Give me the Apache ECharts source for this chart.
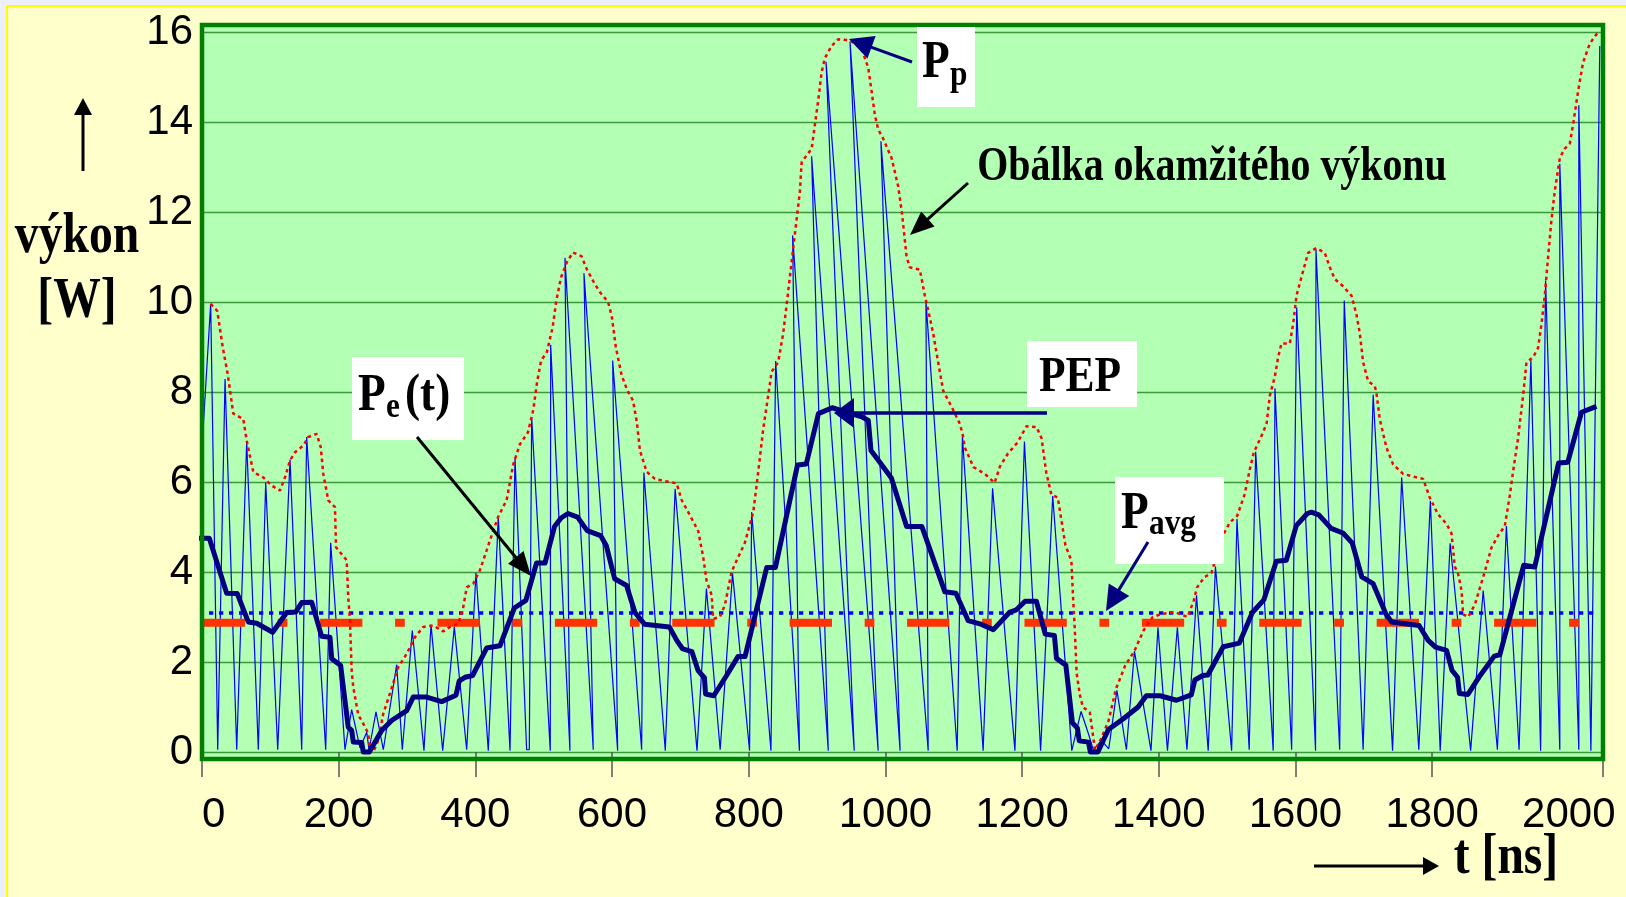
<!DOCTYPE html>
<html><head><meta charset="utf-8">
<script src="https://cdn.jsdelivr.net/npm/echarts@6/dist/echarts.min.js"></script>
<style>html,body{margin:0;padding:0;background:#EEEEFF;}#c{width:1626px;height:897px;}</style>
</head><body><div id="c"></div>
<script>
// ---- data (t in ns, power in W) ----
const xTickLabels = [0,200,400,600,800,1000,1200,1400,1600,1800,2000];
const xTickMarks = [0,200,400,600,800,1000,1200,1400,1600,1800,2050];
const yTickLabels = [0,2,4,6,8,10,12,14,16];

const instPower = [[0,6.76],[12.7,9.96],[23,0.05],[33.7,8.29],[50.8,0.05],[65.4,6.9],[82.4,0.05],[93.2,5.99],[110.8,0.05],[128.8,6.5],[145.9,0.05],[153.2,7.0],[181,0.05],[188.3,4.65],[209.2,0.05],[219,0.94],[231.2,0.09],[241,0.44],[244.4,0.05],[254.6,0.89],[265.3,0.05],[284.9,1.94],[293.1,0.05],[307.7,2.7],[324.8,0.03],[335.1,2.83],[352.2,0.03],[369.2,2.78],[387.3,0.05],[400.9,3.98],[418.9,0.03],[433.5,5.22],[450.7,0.03],[458,6.55],[475,0.05],[478.9,0.05],[482.4,7.43],[509.6,0.03],[510.2,9.05],[538.4,0.03],[531.1,10.98],[572.5,0.05],[558.9,10.64],[608.2,0.03],[600.9,8.7],[643.3,0.05],[646.6,6.21],[677.9,0.03],[692.3,5.85],[724.3,0.03],[738.1,3.63],[758.2,0.05],[776.3,3.97],[801.2,0.03],[804.2,5.33],[832.5,0.03],[839.4,8.69],[874.2,0.03],[864.2,11.48],[916.4,0.03],[892,13.24],[954.4,0.03],[913.1,15.34],[989.4,0.03],[948.2,15.79],[1021.5,0.03],[993.4,13.57],[1062.6,0.03],[1059.3,10.03],[1105,0.03],[1112.7,7.02],[1143,0.03],[1156.8,5.86],[1189.5,0.03],[1203.4,6.9],[1227.1,0.03],[1244.8,5.69],[1272.7,0.03],[1286.3,0.9],[1297.2,0.4],[1304.3,0.04],[1316,0.26],[1326.8,0.07],[1338.7,1.37],[1352.6,0.05],[1364.4,2.24],[1388.6,0.03],[1398.8,2.77],[1412.7,0.03],[1427.2,2.77],[1441.2,0.05],[1455.2,3.48],[1472.3,0.03],[1482.9,4.12],[1506.6,0.03],[1514.4,5.18],[1532.3,0.05],[1541.8,6.67],[1567.4,0.03],[1570,8.08],[1594.4,0.05],[1601.8,9.88],[1629.4,0.03],[1630,11.17],[1664.7,0.05],[1671.4,10.03],[1699,0.05],[1713.7,7.94],[1742.1,0.03],[1755.4,6.1],[1780.5,0.05],[1797.4,5.58],[1811.8,0.03],[1826.3,4.64],[1856.3,0.03],[1874.7,3.59],[1895.5,0.05],[1908.6,5.02],[1927.2,0.05],[1944.5,8.71],[1958.7,0.03],[1966,10.48],[1986.8,0.05],[1986.8,13.07],[2014.6,0.05],[2014.6,14.37],[2032.3,0.03],[2045.3,15.69]];

const envelope = [[12.7,9.96],[22.4,9.8],[30.3,9.0],[37.6,8.4],[45.8,7.52],[60.4,7.4],[65.4,6.92],[75.1,6.22],[89.7,6.1],[102,5.92],[114.1,5.81],[121.4,6.1],[128.8,6.48],[136.1,6.66],[148.2,6.81],[155.5,7.0],[167.8,7.07],[173.7,6.78],[177.5,6.18],[184.8,5.59],[194.6,5.44],[196.1,4.55],[211.7,4.26],[214,3.44],[216.5,2.92],[219,1.81],[221.4,1.44],[228.7,0.82],[233.6,0.7],[243.3,0.41],[245.8,0.04],[250.6,0],[257.9,0.26],[265.2,0.85],[275,1.3],[287.2,1.89],[299.5,2.18],[311.6,2.55],[323.8,2.78],[338.4,2.81],[353,2.68],[362.8,2.78],[375,2.85],[382.3,3.22],[387.3,3.66],[396.9,3.74],[406.7,4.04],[416.5,4.48],[426.2,4.92],[433.5,5.23],[445.8,5.6],[455.4,6.39],[465.2,6.84],[476.9,7.1],[484.7,7.6],[490.5,8.24],[496.3,8.7],[504.7,8.89],[513.1,9.44],[518.6,10.04],[525.4,10.55],[534.4,10.9],[542.8,11.1],[555.1,11.02],[563.3,10.72],[574.7,10.4],[583.2,10.2],[594.3,10.0],[599.8,9.66],[605.5,9.0],[613.9,8.38],[622.2,8.04],[630.7,7.81],[636.3,7.33],[640.8,6.7],[650.6,6.23],[662.7,6.07],[677.4,6.02],[694.5,5.97],[701.8,5.6],[711.5,5.33],[726.1,4.91],[733.4,4.33],[738.4,3.8],[745.7,3.49],[748,2.96],[757.9,3.0],[765.2,3.27],[775,4.01],[784.6,4.33],[794.4,4.65],[806.6,5.33],[811.5,5.92],[816.4,6.55],[821.2,7.18],[828.5,7.92],[833.5,8.45],[843.1,8.66],[850.4,9.3],[855.4,9.93],[860.2,10.56],[865.1,11.2],[870,11.83],[874.9,12.46],[877.4,13.1],[884.7,13.26],[892,13.4],[896.8,13.94],[901.6,14.47],[906.6,15.1],[911.4,15.42],[921.2,15.69],[930.9,15.84],[944.7,15.82],[950.5,15.79],[965.1,15.63],[974.8,15.21],[979.8,14.68],[984.6,14.15],[989.4,13.84],[996.7,13.63],[1009,13.2],[1018.7,12.57],[1024.5,11.94],[1031,11.0],[1035.8,10.77],[1050.4,10.72],[1057.7,10.14],[1062.6,9.82],[1069.9,9.3],[1077.2,8.66],[1084.5,8.03],[1099.2,7.6],[1109,7.29],[1113.3,7.04],[1116.3,6.76],[1129,6.33],[1145.5,6.18],[1159.7,5.98],[1167.5,6.34],[1179.2,6.63],[1193.4,6.88],[1206.5,7.24],[1221.2,7.22],[1228.5,6.97],[1235.5,6.2],[1242.8,5.72],[1252.3,5.65],[1263.3,4.6],[1272.1,4.25],[1274.7,3.4],[1277.2,2.7],[1279.8,1.75],[1284.5,1.27],[1288.9,1.0],[1299.1,0.88],[1304.1,0.33],[1306.5,0.04],[1315.8,0.3],[1326.6,0.7],[1337.3,1.4],[1350.8,1.92],[1364.2,2.24],[1377.7,2.7],[1391.2,3.0],[1404.5,3.07],[1423.4,3.11],[1442.2,3.0],[1451.3,3.37],[1455.7,3.65],[1466.4,3.88],[1477,3.98],[1482.5,4.26],[1493.3,4.8],[1504,5.1],[1514.8,5.25],[1525.5,5.72],[1533.5,6.3],[1538.9,6.65],[1549.6,7.0],[1557.7,7.29],[1562.5,7.92],[1569.8,8.34],[1574.6,8.77],[1579.6,9.08],[1591.7,9.08],[1596.6,9.51],[1601.5,10.14],[1608.9,10.56],[1618.5,11.09],[1630.8,11.2],[1642.9,11.09],[1650.3,10.77],[1657.6,10.51],[1669.7,10.35],[1682,10.14],[1689.3,9.72],[1694.2,9.3],[1699,8.66],[1706.3,8.24],[1716.1,8.13],[1718.6,7.97],[1723.4,7.39],[1733.2,6.76],[1742.9,6.39],[1757.5,6.18],[1769.8,6.13],[1786.8,6.07],[1796.6,5.65],[1808.7,5.28],[1821,5.07],[1828.3,4.86],[1833.1,4.12],[1838,3.96],[1843,3.59],[1845.3,3.06],[1852.6,3.0],[1862.4,3.27],[1877,4.01],[1886.8,4.54],[1896.5,4.81],[1906.3,5.02],[1913.6,5.7],[1918.4,6.23],[1925.7,6.97],[1933.1,7.92],[1938,8.66],[1947.7,8.77],[1955,8.98],[1960,9.51],[1964.8,10.14],[1969.6,10.99],[1974.6,11.83],[1979.4,12.46],[1986.8,13.2],[1994.1,13.41],[2001.4,13.52],[2006.2,13.94],[2013.5,14.68],[2020.8,15.32],[2030.6,15.74],[2040.4,15.95],[2045.3,16.0]];

const peAvg = [[-10.2,4.75],[10.7,4.75],[36.1,3.53],[51.6,3.52],[67.7,2.89],[80,2.86],[103.4,2.66],[123.9,3.1],[137.1,3.11],[145.9,3.32],[160.5,3.33],[175.1,2.57],[187.3,2.55],[189.8,2.07],[202.9,1.92],[214,0.55],[219,0.48],[221.4,0.22],[233.6,0.21],[236,0],[244.8,0],[262.9,0.48],[277.5,0.7],[299.5,0.92],[309.1,1.22],[328.7,1.22],[350.7,1.12],[371.6,1.26],[376.4,1.58],[384.8,1.66],[396,1.7],[416.5,2.31],[436,2.36],[457,3.2],[473.9,3.37],[489.5,4.2],[501.9,4.2],[515.8,5.01],[525.4,5.2],[535.5,5.3],[549.5,5.22],[563.6,4.92],[583.2,4.81],[591.5,4.59],[603.8,3.85],[621.2,3.7],[633.5,3.1],[647.5,2.84],[683.8,2.78],[695.1,2.47],[703.4,2.29],[716.9,2.23],[725.9,1.81],[735.2,1.65],[736.8,1.29],[748.8,1.25],[767.6,1.7],[784.2,2.12],[794.6,2.12],[826.3,4.1],[839,4.1],[871.4,6.38],[884.2,6.4],[902,7.52],[922.1,7.65],[966.6,7.44],[975,7.37],[978.9,6.7],[991.8,6.44],[1008.7,6.09],[1031,5.01],[1053.4,5.01],[1087,3.56],[1103.1,3.53],[1121,2.92],[1139.7,2.84],[1158,2.72],[1182.1,3.11],[1191.6,3.16],[1204.4,3.35],[1220.9,3.35],[1233.9,2.62],[1247.3,2.59],[1250.3,2.08],[1264,1.93],[1273.6,0.65],[1280.9,0.53],[1283.6,0.25],[1297,0.22],[1299.9,0],[1310.9,0],[1326.3,0.5],[1348.2,0.74],[1369.7,1.0],[1381.8,1.25],[1401.7,1.25],[1426,1.15],[1447.6,1.27],[1452.8,1.6],[1464.4,1.7],[1471.8,1.71],[1494.3,2.34],[1517.9,2.42],[1536.9,3.1],[1553.7,3.38],[1572,4.24],[1586.6,4.26],[1601.2,5.03],[1617.3,5.3],[1623.3,5.33],[1634.2,5.27],[1652.2,4.97],[1670.2,4.86],[1683.2,4.64],[1697.1,3.89],[1713.7,3.74],[1732.3,3.07],[1740.5,2.89],[1780.8,2.81],[1794.2,2.48],[1804.9,2.33],[1821.1,2.26],[1829.2,1.81],[1837.2,1.66],[1839.9,1.3],[1852.3,1.28],[1868.4,1.66],[1890.9,2.13],[1899,2.16],[1934,4.15],[1950.1,4.11],[1985,6.42],[1998.5,6.44],[2018.5,7.55],[2040.4,7.68]];

const pAvgLine = [[-4.4,3.09],[2036.8,3.09]];
const redDashLine = [[1,2.87],[2050,2.87]];

// ---- chart ----
const chart = echarts.init(document.getElementById('c'), null, {width:1626, height:897});
const SERIF = '"Liberation Serif","Times New Roman",serif';
const NAVY = '#000080';

function arrow(x1,y1,x2,y2,color,lw,hl,hw){
  const dx=x2-x1, dy=y2-y1, L=Math.hypot(dx,dy), ux=dx/L, uy=dy/L;
  const bx=x2-ux*hl, by=y2-uy*hl, nx=-uy, ny=ux;
  return [
    {type:'line', z:40, shape:{x1:x1,y1:y1,x2:bx+ux*2,y2:by+uy*2}, style:{stroke:color,lineWidth:lw}},
    {type:'polygon', z:41, shape:{points:[[x2,y2],[bx+nx*hw,by+ny*hw],[bx-nx*hw,by-ny*hw]]}, style:{fill:color}}
  ];
}
function txt(x,y,text,size,align,sx){
  return {type:'text', z:45, x:x, y:y, scaleX:(sx||0.87),
    style:{text:text, x:0, y:0, fill:'#000', font:'bold '+size+'px '+SERIF,
      align:align, textAlign:align, verticalAlign:'middle', textVerticalAlign:'middle'}};
}
function box(x,y,w,h){
  return {type:'rect', z:30, shape:{x:x,y:y,width:w,height:h}, style:{fill:'#ffffff'}};
}

const graphics = [
  {type:'rect', z:-30, shape:{x:0,y:0,width:1626,height:897}, style:{fill:'#EEEEFF'}},
  {type:'rect', z:-29, shape:{x:7,y:6,width:1640,height:910}, style:{fill:'#FFFFCC', stroke:'#FFFF00', lineWidth:2}},
  {type:'rect', z:-20, shape:{x:202,y:25,width:1401,height:734}, style:{fill:'#B3FFB3'}},
  {type:'rect', z:20, shape:{x:202,y:25,width:1401,height:734}, style:{fill:null, stroke:'#008000', lineWidth:4.5}},
  box(917,27,58,80), box(1027,341,110,66), box(352,357,112,83), box(1115,477,109,87),
  txt(922,64,'P',52,'left'), txt(950,76,'p',36,'left'),
  txt(1080,378,'PEP',50,'center'),
  txt(358,397,'P',52,'left'), txt(386,408,'e',36,'left'), txt(405,397,'(t)',52,'left'),
  txt(1121,515,'P',52,'left'), txt(1149,525,'avg',36,'left'),
  txt(1212,168,'Obálka okamžitého výkonu',48,'center',0.83),
  txt(77,238,'výkon',56,'center',0.85),
  txt(77,303,'[W]',56,'center',0.85),
  txt(1506,859,'t [ns]',56,'center',0.85)
].concat(
  arrow(83,171,83,98,'#000',3,17,9),
  arrow(1314,866,1439,866,'#000',3,16,9),
  arrow(968,183,910,235,'#000',3,24,10),
  arrow(912,62,849,39,NAVY,3,24,12),
  arrow(1047,413,834,413,NAVY,3.5,20,15),
  arrow(417,437,531,576,'#000',3,24,10),
  arrow(1148,542,1106,611,NAVY,3,25,12)
);

const option = {
  animation:false,
  backgroundColor:'transparent',
  grid:{left:202, right:23, top:32, bottom:145},
  xAxis:{type:'value', min:0, max:2050, interval:200, offset:10,
    axisLine:{show:false},
    axisTick:{show:true, length:25, customValues:xTickMarks, lineStyle:{color:'#555', width:1.5}},
    splitLine:{show:false},
    axisLabel:{fontSize:42, color:'#000', fontFamily:'"Liberation Sans",Arial,sans-serif', margin:32, lineHeight:42,
      alignMinLabel:'left',
      formatter:function(v){ return xTickLabels.indexOf(v) >= 0 ? String(v) : ''; }}
  },
  yAxis:{type:'value', min:0, max:16, interval:2,
    axisLine:{show:false}, axisTick:{show:false},
    splitLine:{show:true, lineStyle:{color:'#3a9a3a', width:1.4}},
    axisLabel:{fontSize:42, color:'#000', fontFamily:'"Liberation Sans",Arial,sans-serif', margin:9,
      formatter:function(v){ return yTickLabels.indexOf(v) >= 0 ? String(v) : ''; }}
  },
  series:[
    {type:'line', name:'inst', data:instPower, symbol:'none', z:3, clip:false,
      lineStyle:{color:'#0000ff', width:1.2}},
    {type:'line', name:'red', data:redDashLine, symbol:'none', z:4, clip:false,
      lineStyle:{color:'#ff3300', width:8, type:[42.3,32.7,9.7,32.7], cap:'butt'}},
    {type:'line', name:'pavg', data:pAvgLine, symbol:'none', z:5, clip:false,
      lineStyle:{color:'#0000ff', width:3.5, type:[4.3,5.7], cap:'butt'}},
    {type:'line', name:'env', data:envelope, symbol:'none', z:6, clip:false,
      lineStyle:{color:'#ff0000', width:2.5, type:[3.5,3.5], cap:'butt'}},
    {type:'line', name:'pe', data:peAvg, symbol:'none', z:7, clip:false,
      lineStyle:{color:NAVY, width:5, join:'round'}}
  ],
  graphic:graphics
};
chart.setOption(option);
</script>
</body></html>
